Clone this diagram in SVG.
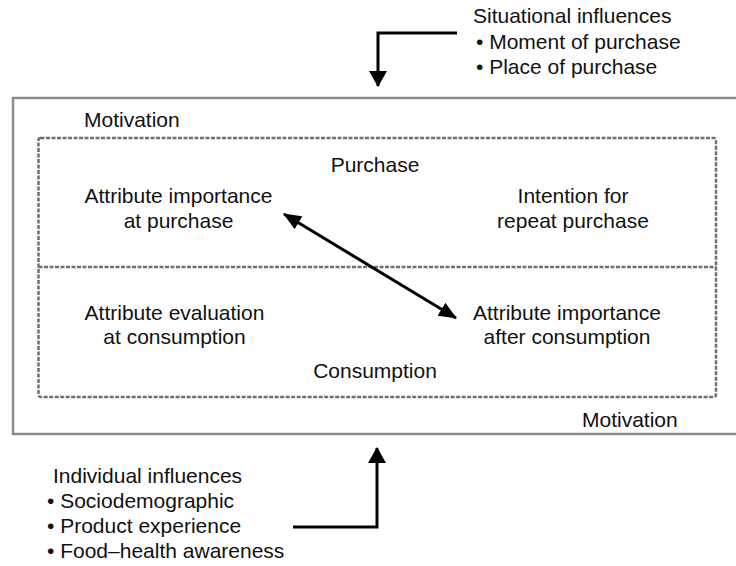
<svg xmlns="http://www.w3.org/2000/svg" width="736" height="566" viewBox="0 0 736 566">
  <style>
    text { font-family: "Liberation Sans", Arial, sans-serif; font-size: 21px; fill: #111; }
    .c { text-anchor: middle; }
    .outer { fill: none; stroke: #8c8c8c; stroke-width: 2.5; }
    .dash { fill: none; stroke: #707070; stroke-width: 2.5; stroke-dasharray: 4 1.5; }
    .conn { fill: none; stroke: #000; stroke-width: 3; }
  </style>
  <defs>
    <marker id="head" viewBox="0 0 16 18" refX="15" refY="9" markerWidth="16" markerHeight="18" markerUnits="userSpaceOnUse" orient="auto">
      <path d="M0,0 L16,9 L0,18 Z" fill="#000"/>
    </marker>
    <marker id="headS" viewBox="0 0 18 15" refX="17" refY="7.5" markerWidth="18" markerHeight="15" markerUnits="userSpaceOnUse" orient="auto-start-reverse">
      <path d="M0,0 L18,7.5 L0,15 Z" fill="#000"/>
    </marker>
  </defs>

  <g id="motivation-box">
    <rect class="outer" x="13" y="98" width="740" height="336"/>
    <text x="84" y="127">Motivation</text>
    <text x="582" y="427">Motivation</text>
  </g>

  <g id="stages-box">
    <rect class="dash" x="38.5" y="138" width="677.5" height="259" rx="2"/>
    <line class="dash" x1="38.5" y1="267" x2="716" y2="267"/>
  </g>

  <g id="purchase">
    <text class="c" x="375" y="172">Purchase</text>
  </g>
  <g id="importance-at-purchase">
    <text class="c" x="178.5" y="203">Attribute importance</text>
    <text class="c" x="178.5" y="228">at purchase</text>
  </g>
  <g id="repeat-intention">
    <text class="c" x="573" y="203">Intention for</text>
    <text class="c" x="573" y="228">repeat purchase</text>
  </g>
  <g id="evaluation-at-consumption">
    <text class="c" x="174.5" y="320">Attribute evaluation</text>
    <text class="c" x="174.5" y="344">at consumption</text>
  </g>
  <g id="importance-after-consumption">
    <text class="c" x="567" y="320">Attribute importance</text>
    <text class="c" x="567" y="344">after consumption</text>
  </g>
  <g id="consumption">
    <text class="c" x="375" y="378">Consumption</text>
  </g>

  <g id="situational-influences">
    <text x="473" y="23">Situational influences</text>
    <text x="476" y="49">• Moment of purchase</text>
    <text x="476" y="74">• Place of purchase</text>
  </g>

  <g id="individual-influences">
    <text x="53" y="483">Individual influences</text>
    <text x="47" y="508">• Sociodemographic</text>
    <text x="47" y="533">• Product experience</text>
    <text x="47" y="558">• Food–health awareness</text>
  </g>

  <g id="connectors">
    <path class="conn" d="M457,33 H378 V86" marker-end="url(#head)"/>
    <path class="conn" d="M293,527 H377 V448" marker-end="url(#head)"/>
    <path class="conn" d="M284,214 L456,318" marker-start="url(#headS)" marker-end="url(#headS)"/>
  </g>
</svg>
